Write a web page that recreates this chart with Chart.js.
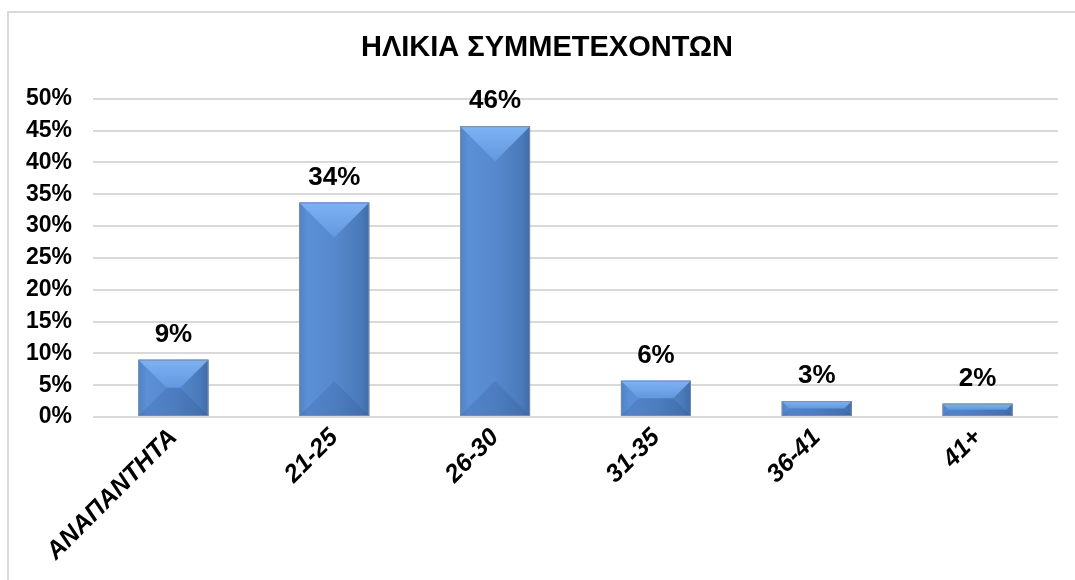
<!DOCTYPE html>
<html>
<head>
<meta charset="utf-8">
<script src="https://cdn.jsdelivr.net/npm/chart.js@4.4.0/dist/chart.umd.min.js"></script>
<style>
    html, body { margin: 0; padding: 0; background: #fff; overflow: hidden; width: 1075px; height: 580px; }
    #frame { position: absolute; left: 7px; top: 11px; width: 1100px; height: 600px; border-left: 2px solid #d9d9d9; border-top: 2px solid #d9d9d9; }
    #wrap { position: absolute; left: 0; top: 0; width: 1094px; height: 580px; }
</style>
</head>
<body>
<div id="frame"></div>
<div id="wrap"><canvas id="ageChart"></canvas></div>
<script>
const categories = ['ΑΝΑΠΑΝΤΗΤΑ', '21-25', '26-30', '31-35', '36-41', '41+'];
const shares = [9, 33.7, 45.7, 5.7, 2.5, 2.1];
const yTicks = [0, 5, 10, 15, 20, 25, 30, 35, 40, 45, 50];
const chartTitle = 'ΗΛΙΚΙΑ ΣΥΜΜΕΤΕΧΟΝΤΩΝ';

const FONT = '"Liberation Sans", Arial, sans-serif';

// bevelled bar look, drawn on top of the bars chart.js places
const bevelBars = {
    id: 'bevelBars',
    afterDatasetsDraw(chart) {
        const ctx = chart.ctx;
        chart.getDatasetMeta(0).data.forEach(bar => {
            const { x, y, base, width } = bar.getProps(['x', 'y', 'base', 'width'], true);
            const l = x - width / 2, r = x + width / 2, t = y, b = base;
            const d = Math.min(width, b - t) / 2;

            ctx.save();
            const body = ctx.createLinearGradient(l, 0, r, 0);
            body.addColorStop(0, '#4f82c4');
            body.addColorStop(0.12, '#5b90d6');
            body.addColorStop(0.5, '#5689cd');
            body.addColorStop(0.88, '#4a7aba');
            body.addColorStop(1, '#3f6ca8');
            ctx.fillStyle = body;
            ctx.fillRect(l, t, width, b - t);

            const top = ctx.createLinearGradient(0, t, 0, t + d);
            top.addColorStop(0, '#7db2f3');
            top.addColorStop(1, '#6398e0');
            ctx.fillStyle = top;
            ctx.beginPath();
            ctx.moveTo(l, t); ctx.lineTo(r, t); ctx.lineTo(r - d, t + d); ctx.lineTo(l + d, t + d);
            ctx.closePath();
            ctx.fill();

            ctx.fillStyle = 'rgba(30, 60, 110, 0.14)';
            ctx.beginPath();
            ctx.moveTo(l, b); ctx.lineTo(r, b); ctx.lineTo(r - d, b - d); ctx.lineTo(l + d, b - d);
            ctx.closePath();
            ctx.fill();

            ctx.strokeStyle = 'rgba(125, 140, 165, 0.9)';
            ctx.lineWidth = 1;
            ctx.strokeRect(l + 0.5, t + 0.5, width - 1, b - t - 1);
            ctx.restore();
        });
    }
};

const barLabels = {
    id: 'barLabels',
    afterDatasetsDraw(chart) {
        const ctx = chart.ctx;
        ctx.save();
        ctx.font = 'bold 26px ' + FONT;
        ctx.fillStyle = '#000';
        ctx.textAlign = 'center';
        ctx.textBaseline = 'alphabetic';
        chart.getDatasetMeta(0).data.forEach((bar, i) => {
            ctx.fillText(Math.round(shares[i]) + '%', bar.x, bar.y - 18);
        });
        ctx.restore();
    }
};

new Chart(document.getElementById('ageChart'), {
    type: 'bar',
    data: {
        labels: categories,
        datasets: [{
            data: shares,
            backgroundColor: '#5689cd',
            borderWidth: 0,
            barPercentage: 0.435,
            categoryPercentage: 1
        }]
    },
    options: {
        responsive: true,
        maintainAspectRatio: false,
        animation: false,
        layout: { padding: 0 },
        plugins: {
            legend: { display: false },
            tooltip: { enabled: false },
            title: {
                display: true,
                text: chartTitle,
                color: '#000',
                font: { family: FONT, size: 29, weight: 'bold' },
                padding: { top: 31, bottom: 33 }
            }
        },
        scales: {
            y: {
                min: 0,
                max: 50,
                afterFit: scale => { scale.width = 93; },
                afterBuildTicks: scale => { scale.ticks = yTicks.map(v => ({ value: v })); },
                ticks: {
                    color: '#000',
                    padding: 21,
                    font: { family: FONT, size: 23, weight: 'bold' },
                    callback: v => v + '%'
                },
                grid: { color: '#d9d9d9', lineWidth: 2, drawTicks: false, tickLength: 0 },
                border: { display: false }
            },
            // empty right margin so the title centres like the original
            yRight: {
                position: 'right',
                afterFit: scale => { scale.width = 36; },
                ticks: { display: false },
                grid: { display: false, drawTicks: false },
                border: { display: false }
            },
            x: {
                afterFit: scale => { scale.height = 163; },
                ticks: {
                    color: '#000',
                    minRotation: 45,
                    maxRotation: 45,
                    padding: 6,
                    font: { family: FONT, size: 25, weight: 'bold', style: 'italic' }
                },
                grid: { display: false, drawTicks: false, tickLength: 0 },
                border: { display: false }
            }
        }
    },
    plugins: [bevelBars, barLabels]
});
</script>
</body>
</html>
